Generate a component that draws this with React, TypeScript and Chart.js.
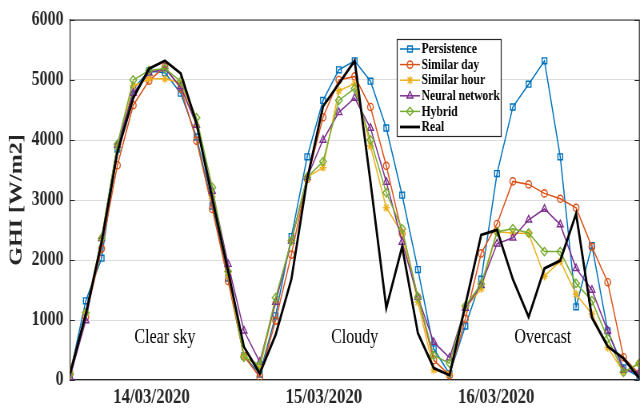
import { useEffect, useRef } from 'react';
import { Chart, registerables } from 'chart.js';
import { drawPoint } from 'chart.js/helpers';

Chart.register(...registerables);

// ---- data (37 hourly samples over three days) ----
const persistence = [100, 1320, 2030, 3850, 4850, 5150, 5120, 4780, 4050, 2900, 1700, 400, 100,
  1070, 2390, 3720, 4660, 5170, 5320, 4980, 4200, 3080, 1840, 520, 100,
  900, 1680, 3440, 4550, 4930, 5320, 3720, 1220, 2240, 820, 200, 50];
const similarDay = [100, 1050, 2190, 3580, 4580, 4990, 5220, 4860, 3990, 2850, 1650, 400, 50,
  990, 2090, 3350, 4380, 5000, 5060, 4550, 3570, 2440, 1380, 330, 80,
  1020, 2110, 2600, 3310, 3260, 3110, 3020, 2870, 2220, 1630, 380, 100];
const similarHour = [150, 1120, 2360, 3900, 4900, 5020, 5020, 4950, 4250, 3050, 1750, 400, 200,
  1300, 2320, 3380, 3540, 4820, 4940, 3900, 2870, 2450, 1300, 165, 100,
  1200, 1520, 2470, 2450, 2440, 1730, 1980, 1430, 1100, 540, 132, 280];
const neuralNetwork = [50, 990, 2360, 3920, 4780, 5120, 5190, 4890, 4250, 3150, 1930, 820, 300,
  1300, 2320, 3380, 4000, 4460, 4700, 4200, 3300, 2300, 1380, 630, 370,
  1200, 1580, 2270, 2370, 2670, 2850, 2590, 1860, 1500, 820, 165, 130];
const hybrid = [100, 1120, 2360, 3930, 5000, 5160, 5190, 4980, 4370, 3210, 1810, 380, 250,
  1370, 2320, 3380, 3640, 4660, 4860, 4000, 3120, 2520, 1380, 410, 280,
  1235, 1600, 2470, 2520, 2450, 2140, 2140, 1610, 1320, 690, 130, 280];
const real = [100, 1100, 2300, 3800, 4700, 5190, 5320, 5110, 4280, 3020, 1810, 550, 110,
  750, 1680, 3350, 4560, 4940, 5320, 3300, 1200, 2220, 780, 200, 80,
  1250, 2420, 2500, 1680, 1050, 1860, 1990, 2770, 1040, 560, 360, 30];

const SERIES_NAMES = ['Persistence', 'Similar day', 'Similar hour', 'Neural network', 'Hybrid', 'Real'];
const DATE_LABELS = ['14/03/2020', '15/03/2020', '16/03/2020'];
const DATE_TICK_POS = [5.15, 16.05, 26.95];
const REGION_LABELS = ['Clear sky', 'Cloudy', 'Overcast'];
const REGION_X = [6, 18, 29.9];
const REGION_Y = 710;
const Y_MIN = 0;
const Y_MAX = 6000;
const Y_STEP = 1000;

// ---- styling ----
const W = 644;
const H = 410;
const SX = 0.8; // the reference is horizontally compressed
const IW = W / SX;
const FONT = "'Liberation Serif', 'Times New Roman', serif";
const DARK = '#262626';
const COLORS = ['#0072BD', '#D95319', '#EDB120', '#7E2F8E', '#77AC30', '#000000'];
const STYLES: any[] = ['rect', 'circle', 'star', 'triangle', 'rectRot', false];
const RADII = [4.2, 3.6, 4.2, 4.4, 4.2, 0];
const ORDERS = [5, 4, 3, 2, 1, 0];

const extrasPlugin = {
  id: 'extras',
  afterDraw(chart: any) {
    const { ctx, chartArea } = chart;
    const { left, right, top, bottom } = chartArea;
    const ys = chart.scales.y;
    const xs = chart.scales.x;
    ctx.save();
    // box border (top and right)
    ctx.strokeStyle = DARK;
    ctx.lineWidth = 1.2;
    ctx.beginPath();
    ctx.moveTo(left, top);
    ctx.lineTo(right, top);
    ctx.lineTo(right, bottom);
    ctx.stroke();
    // inward tick marks on both y sides
    ctx.lineWidth = 1;
    for (let v = Y_MIN; v <= Y_MAX; v += Y_STEP) {
      const py = Math.round(ys.getPixelForValue(v)) + 0.5;
      ctx.beginPath();
      ctx.moveTo(left, py);
      ctx.lineTo(left + 6, py);
      ctx.moveTo(right - 6, py);
      ctx.lineTo(right, py);
      ctx.stroke();
    }
    // region annotations
    ctx.fillStyle = '#000';
    ctx.font = `20px ${FONT}`;
    ctx.textAlign = 'center';
    ctx.textBaseline = 'middle';
    REGION_LABELS.forEach((t, i) => {
      ctx.fillText(t, xs.getPixelForValue(REGION_X[i]), ys.getPixelForValue(REGION_Y));
    });
    // legend box
    const lx0 = 496.5, lx1 = 626.5, ly0 = 39.5, ly1 = 136.5;
    ctx.fillStyle = '#fff';
    ctx.fillRect(lx0, ly0, lx1 - lx0, ly1 - ly0);
    ctx.strokeStyle = DARK;
    ctx.lineWidth = 1.2;
    ctx.strokeRect(lx0, ly0, lx1 - lx0, ly1 - ly0);
    SERIES_NAMES.forEach((name, i) => {
      const cy = 49 + i * 15.6;
      ctx.strokeStyle = COLORS[i];
      ctx.lineWidth = i === 5 ? 2.8 : 1.5;
      ctx.beginPath();
      ctx.moveTo(500, cy);
      ctx.lineTo(525, cy);
      ctx.stroke();
      if (STYLES[i]) {
        ctx.fillStyle = 'rgba(0,0,0,0)';
        ctx.lineWidth = 1.4;
        drawPoint(ctx, { pointStyle: STYLES[i], rotation: 0, radius: RADII[i], borderWidth: 1.4 } as any, 512.5, cy);
      }
      ctx.fillStyle = '#000';
      ctx.font = `bold 14.5px ${FONT}`;
      ctx.textAlign = 'left';
      ctx.textBaseline = 'middle';
      ctx.fillText(name, 527, cy + 0.5);
    });
    ctx.restore();
  },
};

export default function App() {
  const ref = useRef<HTMLCanvasElement | null>(null);
  useEffect(() => {
    const canvas = ref.current;
    if (!canvas) return;
    const series = [persistence, similarDay, similarHour, neuralNetwork, hybrid, real];
    const datasets = series.map((vals, i) => ({
      label: SERIES_NAMES[i],
      data: vals.map((v, k) => ({ x: k, y: v })),
      borderColor: COLORS[i],
      backgroundColor: 'rgba(0,0,0,0)',
      borderWidth: i === 5 ? 2.8 : 1.5,
      pointStyle: STYLES[i],
      pointRadius: RADII[i],
      pointBorderWidth: 1.4,
      pointBorderColor: COLORS[i],
      pointBackgroundColor: 'rgba(0,0,0,0)',
      tension: 0,
      order: ORDERS[i],
      fill: false,
    }));
    const chart = new Chart(canvas, {
      type: 'line',
      data: { datasets },
      options: {
        animation: false,
        responsive: false,
        devicePixelRatio: 1,
        layout: { padding: { left: 0, right: IW - 643 / SX, top: 16, bottom: 0 } },
        plugins: { legend: { display: false }, tooltip: { enabled: false } },
        scales: {
          x: {
            type: 'linear',
            min: 0,
            max: 36,
            grid: { display: false, drawTicks: false },
            border: { display: true, color: DARK, width: 1.2 },
            afterBuildTicks: (scale: any) => {
              scale.ticks = DATE_TICK_POS.map((v) => ({ value: v }));
            },
            afterFit: (scale: any) => {
              scale.height = 30;
            },
            ticks: {
              autoSkip: false,
              maxRotation: 0,
              padding: 5,
              color: DARK,
              font: { family: FONT, size: 21, weight: 'bold' },
              callback: (_v: any, i: number) => DATE_LABELS[i],
            },
          },
          y: {
            min: Y_MIN,
            max: Y_MAX,
            grid: { color: '#dcdcdc', lineWidth: 1, drawTicks: false },
            border: { display: true, color: DARK, width: 1.2 },
            afterFit: (scale: any) => {
              scale.width = 70 / SX;
            },
            ticks: {
              stepSize: Y_STEP,
              padding: 8,
              color: DARK,
              font: { family: FONT, size: 20, weight: 'bold' },
              callback: (v: any) => String(v),
            },
            title: {
              display: true,
              text: 'GHI [W/m2]',
              color: DARK,
              padding: { top: 6, bottom: 0 },
              font: { family: FONT, size: 24, weight: 'bold' },
            },
          },
        },
      },
      plugins: [extrasPlugin],
    } as any);
    return () => chart.destroy();
  }, []);
  return (
    <div style={{ position: 'fixed', left: 0, top: 0, width: W, height: H, background: '#fff' }}>
      <canvas
        ref={ref}
        width={IW}
        height={H}
        style={{ width: `${W}px`, height: `${H}px`, display: 'block' }}
      />
    </div>
  );
}
